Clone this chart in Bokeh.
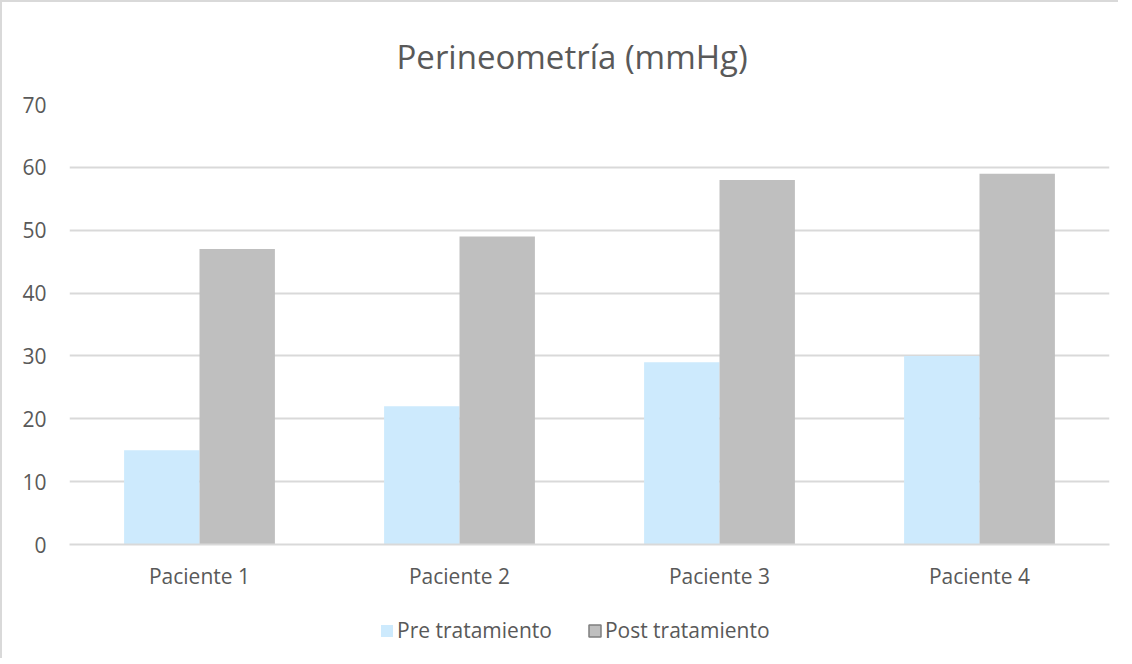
from bokeh.plotting import figure
from bokeh.layouts import column
from bokeh.models import ColumnDataSource, FactorRange, Range1d, Legend, LegendItem, Title, FixedTicker
from bokeh.transform import dodge
from bokeh.embed import file_html
from bokeh.resources import INLINE

categories = ["Paciente 1", "Paciente 2", "Paciente 3", "Paciente 4"]
pre_values = [15, 22, 29, 30]
post_values = [47, 49, 58, 59]
series_names = ["Pre tratamiento", "Post tratamiento"]
y_ticks = [0, 10, 20, 30, 40, 50, 60, 70]

FONT = "Open Sans"
TXT = "#595959"
GRID = "#d9d9d9"
PRE_C = "#cdeafd"
POST_C = "#bfbfbf"
FS = "21px"

src = ColumnDataSource(dict(cat=categories, pre=pre_values, post=post_values))

p = figure(width=1116, height=600, x_range=FactorRange(*categories, range_padding=0),
           y_range=Range1d(0, 70), output_backend="svg", toolbar_location=None,
           min_border_left=67, min_border_right=9, min_border_top=102, min_border_bottom=58)

p.title = Title(text="Perineometría (mmHg)", align="left", offset=327, text_font=FONT,
                text_font_size="33px", text_font_style="normal", text_color=TXT,
                standoff=52)
p.outline_line_color = None
p.background_fill_color = "white"
p.border_fill_color = "white"

r_pre = p.vbar(x=dodge("cat", -0.145, range=p.x_range), top="pre", width=0.29, source=src,
               fill_color=PRE_C, line_color=None)
r_post = p.vbar(x=dodge("cat", 0.145, range=p.x_range), top="post", width=0.29, source=src,
                fill_color=POST_C, line_color=None)

p.yaxis.ticker = FixedTicker(ticks=y_ticks)
p.yaxis.axis_line_color = None
p.yaxis.major_tick_line_color = None
p.yaxis.minor_tick_line_color = None
p.yaxis.major_label_text_font = FONT
p.yaxis.major_label_text_font_size = FS
p.yaxis.major_label_text_color = TXT
p.yaxis.major_label_standoff = 17

p.xaxis.axis_line_color = GRID
p.xaxis.axis_line_width = 2
p.xaxis.major_tick_line_color = None
p.xaxis.minor_tick_line_color = None
p.xaxis.major_label_text_font = FONT
p.xaxis.major_label_text_font_size = FS
p.xaxis.major_label_text_color = TXT
p.xaxis.major_label_standoff = 11

p.xgrid.grid_line_color = None
p.ygrid.grid_line_color = GRID
p.ygrid.grid_line_width = 2

# legend strip below the chart
lf = figure(width=1116, height=56, x_range=Range1d(0, 1), y_range=Range1d(0, 1),
            output_backend="svg", toolbar_location=None,
            min_border_left=0, min_border_right=0, min_border_top=0, min_border_bottom=0)
lf.xaxis.visible = False
lf.yaxis.visible = False
lf.grid.visible = False
lf.outline_line_color = None
lf.border_fill_color = "white"

# legend-key carriers: zero-size, outside the strip's visible range
keysrc = ColumnDataSource(dict(x=[0.5], top=[-100], bottom=[-100]))
k_pre = lf.vbar(x="x", top="top", bottom="bottom", width=1e-9, source=keysrc,
                fill_color=PRE_C, line_color=None)
k_post = lf.vbar(x="x", top="top", bottom="bottom", width=1e-9, source=keysrc,
                 fill_color=POST_C, line_color="#7f7f7f", line_width=1.5)

legend = Legend(items=[LegendItem(label=series_names[0], renderers=[k_pre]),
                       LegendItem(label=series_names[1], renderers=[k_post])],
                orientation="horizontal", location=(310, 14),
                label_text_font=FONT, label_text_font_size=FS, label_text_color=TXT,
                glyph_width=15, glyph_height=15, spacing=35, label_standoff=3,
                border_line_color=None, background_fill_alpha=0, margin=0, padding=4)
lf.add_layout(legend, "center")

layout = column(p, lf, spacing=0)
layout.styles = {"border-left": "2px solid #d9d9d9", "border-top": "2px solid #d9d9d9"}

open("out.html", "w").write(file_html(layout, INLINE))
